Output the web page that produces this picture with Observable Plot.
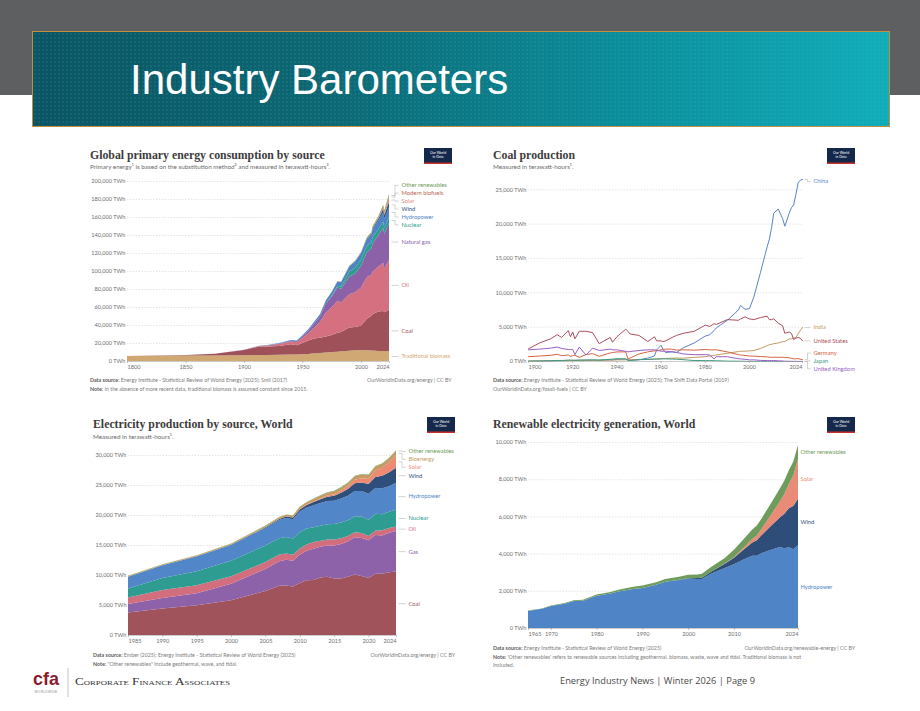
<!DOCTYPE html>
<html>
<head>
<meta charset="utf-8">
<script src="https://cdn.jsdelivr.net/npm/d3@7"></script>
<script src="https://cdn.jsdelivr.net/npm/@observablehq/plot@0.6"></script>
<style>
  html, body { margin: 0; padding: 0; background: #fff; }
  #page { position: relative; width: 920px; height: 711px; overflow: hidden; background: #fff; font-family: Lato, "Noto Sans", sans-serif; }
  #topband { position: absolute; left: 0; top: 0; width: 920px; height: 95px; background: #5e5f61; }
  #banner {
    position: absolute; left: 32px; top: 31px; width: 856px; height: 94px;
    border: 1px solid #c4903f;
    background:
      radial-gradient(circle, rgba(120,200,220,0.10) 0.7px, transparent 1.1px) 0 0 / 4px 4px,
      linear-gradient(90deg, #0a5563 0%, #0c6874 35%, #0b8f9c 70%, #10adb9 100%);
  }
  .chart { position: absolute; }
  .chart svg { background: transparent; }
</style>
</head>
<body>
<div id="page">
  <div id="topband"></div>
  <div id="banner"></div>

  <svg width="920" height="711" style="position:absolute;left:0;top:0">
    <text x="130" y="94" font-family="'Liberation Sans', Arial, sans-serif" font-size="42" fill="#ffffff">Industry Barometers</text>

    <g font-family="'Liberation Serif', 'DejaVu Serif', serif" font-weight="700" font-size="11.8" fill="#3c3c3c">
      <text x="90" y="158.5">Global primary energy consumption by source</text>
      <text x="493" y="158.5">Coal production</text>
      <text x="93" y="428.3">Electricity production by source, World</text>
      <text x="493" y="428.3">Renewable electricity generation, World</text>
    </g>

    <g font-family="Lato, sans-serif" font-size="6.3" fill="#6a6a6a">
      <text x="90" y="169.3">Primary energy¹ is based on the substitution method² and measured in terawatt-hours³.</text>
      <text x="493" y="169.3">Measured in terawatt-hours¹.</text>
      <text x="93" y="439.3">Measured in terawatt-hours¹.</text>
    </g>

    <!-- Our World in Data badges -->
    <g font-family="Lato, sans-serif" font-size="3.5" fill="#ffffff" text-anchor="middle">
      <g transform="translate(424,148)">
        <rect width="28" height="16" fill="#14284b"/><rect y="14.5" width="28" height="1.5" fill="#c8302c"/>
        <text x="14" y="6.3">Our World</text><text x="14" y="10.3">in Data</text>
      </g>
      <g transform="translate(827,148)">
        <rect width="28" height="16" fill="#14284b"/><rect y="14.5" width="28" height="1.5" fill="#c8302c"/>
        <text x="14" y="6.3">Our World</text><text x="14" y="10.3">in Data</text>
      </g>
      <g transform="translate(427,417)">
        <rect width="28" height="16" fill="#14284b"/><rect y="14.5" width="28" height="1.5" fill="#c8302c"/>
        <text x="14" y="6.3">Our World</text><text x="14" y="10.3">in Data</text>
      </g>
      <g transform="translate(827,417)">
        <rect width="28" height="16" fill="#14284b"/><rect y="14.5" width="28" height="1.5" fill="#c8302c"/>
        <text x="14" y="6.3">Our World</text><text x="14" y="10.3">in Data</text>
      </g>
    </g>

    <!-- sources and notes -->
    <g font-family="Lato, sans-serif" font-size="5.3" fill="#7c7c7c">
      <text x="90" y="382"><tspan font-weight="700" fill="#5c5c5c">Data source:</tspan> Energy Institute - Statistical Review of World Energy (2025); Smil (2017)</text>
      <text x="451.5" y="382" text-anchor="end">OurWorldinData.org/energy | CC BY</text>
      <text x="90" y="390.5"><tspan font-weight="700" fill="#5c5c5c">Note:</tspan> In the absence of more recent data, traditional biomass is assumed constant since 2015.</text>

      <text x="493" y="382"><tspan font-weight="700" fill="#5c5c5c">Data source:</tspan> Energy Institute - Statistical Review of World Energy (2025); The Shift Data Portal (2019)</text>
      <text x="493" y="390.5">OurWorldinData.org/fossil-fuels | CC BY</text>

      <text x="93" y="657.3"><tspan font-weight="700" fill="#5c5c5c">Data source:</tspan> Ember (2025); Energy Institute - Statistical Review of World Energy (2025)</text>
      <text x="455" y="657.3" text-anchor="end">OurWorldinData.org/energy | CC BY</text>
      <text x="93" y="666"><tspan font-weight="700" fill="#5c5c5c">Note:</tspan> "Other renewables" include geothermal, wave, and tidal.</text>

      <text x="493" y="650"><tspan font-weight="700" fill="#5c5c5c">Data source:</tspan> Energy Institute - Statistical Review of World Energy (2025)</text>
      <text x="855" y="650" text-anchor="end">OurWorldinData.org/renewable-energy | CC BY</text>
      <text x="493" y="658.7"><tspan font-weight="700" fill="#5c5c5c">Note:</tspan> 'Other renewables' refers to renewable sources including geothermal, biomass, waste, wave and tidal. Traditional biomass is not</text>
      <text x="493" y="666.5">included.</text>
    </g>

    <!-- footer -->
    <text x="33" y="685" font-family="'Liberation Sans', Arial, sans-serif" font-weight="700" font-size="19" fill="#8b1c2f" textLength="26" lengthAdjust="spacingAndGlyphs">cfa</text>
    <text x="46" y="692.5" text-anchor="middle" font-family="'Liberation Sans', Arial, sans-serif" font-size="3.2" fill="#8a8a8a" letter-spacing="0.3">WORLDWIDE</text>
    <line x1="68" x2="68" y1="668" y2="697" stroke="#b5b5b5" stroke-width="0.8"/>
    <text x="75" y="684.5" font-family="'Liberation Serif', serif" font-size="10.5" style="font-variant: small-caps" fill="#333333" textLength="155" lengthAdjust="spacingAndGlyphs">Corporate Finance Associates</text>
    <text x="560" y="683.5" font-family="'Open Sans', sans-serif" font-size="9.2" fill="#4a4a4a" textLength="195" lengthAdjust="spacingAndGlyphs">Energy Industry News | Winter 2026 | Page 9</text>
  </svg>

  <div id="c1" class="chart" style="left:80px;top:170px;width:380px;height:210px"></div>
  <div id="c2" class="chart" style="left:480px;top:170px;width:380px;height:210px"></div>
  <div id="c3" class="chart" style="left:80px;top:440px;width:380px;height:215px"></div>
  <div id="c4" class="chart" style="left:480px;top:432px;width:380px;height:216px"></div>
</div>

<script>
// ---------- Global primary energy consumption by source (TWh, substitution method) ----------
const primaryYears = [1800,1825,1850,1875,1900,1913,1920,1930,1940,1945,1950,1955,1960,1965,1970,1975,1980,1983,1990,1995,2000,2005,2009,2010,2015,2019,2020,2024];
const primaryTraditionalBiomass = [5556,5800,6000,6200,6400,6600,6700,6900,7100,7200,7400,7900,8600,9000,9500,9900,10400,10700,11400,11900,12200,12000,11700,11600,11100,11100,11100,11100];
const primaryCoal = [97,230,570,1900,5730,9400,9300,9800,11600,10400,12600,14800,16400,16700,17600,19000,20900,21500,25900,26000,27000,35000,38500,40500,44000,44500,43000,45800];
const primaryOil = [0,0,0,50,180,600,1100,2200,3100,3300,5440,8000,12000,17500,26700,30900,35600,32700,36900,38400,42300,46000,45600,47000,50000,53500,48600,55300];
const primaryGas = [0,0,0,10,64,200,250,550,800,1000,2100,3000,4600,6300,10000,12000,14800,15000,19500,21000,24000,27500,29500,31500,35000,38900,38400,41000];
const primaryNuclear = [0,0,0,0,0,0,0,0,0,0,0,0,2,70,220,1050,2000,2700,5500,6300,6950,7300,6930,7100,6300,6900,6600,6900];
const primaryHydro = [0,0,0,0,50,200,300,500,800,900,1100,1500,2000,2500,3200,3900,4700,5000,5900,6800,7200,7800,8400,8900,9700,10500,10700,10900];
const primaryWind = [0,0,0,0,0,0,0,0,0,0,0,0,0,0,0,0,0,0,10,20,100,270,640,850,2000,3400,3800,6000];
const primarySolar = [0,0,0,0,0,0,0,0,0,0,0,0,0,0,0,0,0,0,0,0,3,10,50,80,620,1750,2100,5000];
const primaryBiofuels = [0,0,0,0,0,0,0,0,0,0,0,0,0,0,0,0,100,150,200,200,250,400,800,900,1000,1200,1100,1350];
const primaryOtherRenewables = [0,0,0,0,0,0,0,0,0,0,0,0,0,100,150,200,300,350,600,700,800,1000,1150,1200,1500,1800,1900,2200];
const primarySources = ["Traditional biomass","Coal","Oil","Natural gas","Nuclear","Hydropower","Wind","Solar","Modern biofuels","Other renewables"];
const primaryColors = ["#cfa874","#9f5159","#d4707f","#8c61a8","#2e9d90","#4e83c6","#2c4d78","#ea8a76","#b8654e","#6e9b59"];
const primaryXTicks = [1800,1850,1900,1950,2000,2024];
const primaryYTicks = [0,20000,40000,60000,80000,100000,120000,140000,160000,180000,200000];

// ---------- Coal production by country (TWh) ----------
const coalYears = [1900,1905,1910,1913,1915,1918,1919,1920,1921,1923,1926,1929,1932,1937,1938,1940,1944,1945,1946,1950,1954,1957,1958,1960,1961,1962,1965,1967,1970,1975,1980,1982,1984,1985,1990,1995,1996,1998,2000,2002,2005,2008,2009,2010,2011,2013,2015,2016,2018,2019,2020,2021,2022,2023,2024];
const coalChina = [20,40,80,100,110,130,140,150,150,180,170,180,200,250,230,300,380,250,180,250,500,800,1700,2350,1700,1300,1400,1300,2000,2700,3700,3900,4500,4900,6000,7500,8150,7600,7700,9400,13000,16700,17800,19500,21600,22200,20800,19700,21600,22400,22800,24300,26000,26400,26500];
const coalIndia = [70,90,110,130,140,150,160,150,160,160,170,180,160,200,220,230,240,250,250,280,320,350,380,400,420,440,480,500,490,600,700,800,900,950,1200,1450,1500,1500,1550,1600,1900,2300,2450,2500,2600,2700,2900,2900,3300,3300,3400,3500,4000,4500,4950];
const coalUnitedStates = [1850,2700,3300,3900,3500,4500,3600,4300,3300,4400,4400,4200,2600,3500,2800,3600,4700,4400,4000,3800,2900,3600,3000,3000,2900,3000,3500,3800,4100,4400,5300,5100,5500,5400,6100,6000,6200,6500,6200,6100,6400,6600,6100,6100,6200,5600,5200,4100,4300,4100,3200,3400,3500,3400,3000];
const coalGermany = [700,800,900,1050,850,950,750,850,900,600,1000,1150,750,1250,1300,1400,1400,400,500,1100,1400,1550,1550,1700,1750,1800,1800,1650,1700,1650,1750,1700,1700,1700,1400,1000,950,880,800,780,720,680,620,600,620,620,600,580,540,450,380,400,420,330,270];
const coalJapan = [50,80,110,150,150,200,210,200,180,200,220,240,200,320,350,420,360,160,160,270,290,360,340,380,390,380,360,330,270,140,130,130,120,110,55,43,43,25,20,10,8,8,8,7,7,7,7,7,7,7,7,7,7,7,7];
const coalUnitedKingdom = [1700,1800,1950,2100,1900,1750,1750,1750,1000,2100,950,1950,1600,1800,1700,1700,1480,1400,1450,1600,1700,1700,1650,1500,1480,1500,1420,1330,1100,990,1000,950,380,700,700,400,380,320,240,240,160,140,140,140,140,100,70,35,25,20,15,10,8,6,4];
const coalCountries = ["China","India","United States","Germany","Japan","United Kingdom"];
const coalColors = ["#5b82c8","#c09a63","#ad4f5e","#d8623f","#3d9a80","#9a5fc4"];
const coalXTicks = [1900,1920,1940,1960,1980,2000,2024];
const coalYTicks = [0,5000,10000,15000,20000,25000];

// ---------- Electricity production by source, World (TWh) ----------
const elecYears = [1985,1990,1995,2000,2005,2007,2008,2009,2010,2011,2012,2013,2014,2015,2016,2017,2018,2019,2020,2021,2022,2023,2024];
const elecCoal = [3750,4430,4950,5800,7330,8200,8270,8100,8650,9130,9170,9600,9700,9400,9430,9700,10100,9850,9500,10200,10200,10450,10600];
const elecGas = [1430,1730,2020,2760,3670,4100,4270,4280,4770,4900,5200,5100,5200,5500,5750,5900,6200,6300,6280,6450,6400,6600,6750];
const elecOil = [1050,1320,1320,1220,1150,1100,1050,1000,980,1050,1120,1000,1000,1020,950,880,810,830,740,760,840,770,750];
const elecNuclear = [1500,2000,2330,2580,2770,2720,2730,2700,2760,2650,2470,2490,2540,2570,2610,2640,2700,2790,2690,2800,2680,2740,2820];
const elecHydro = [1980,2150,2480,2650,2920,3060,3200,3230,3430,3500,3670,3800,3890,3890,4020,4070,4200,4230,4350,4290,4340,4240,4450];
const elecWind = [0,4,8,31,104,170,220,276,342,437,524,640,710,830,960,1140,1270,1420,1590,1850,2100,2330,2500];
const elecSolar = [0,0,0,1,4,8,12,20,32,63,98,134,190,256,330,450,580,700,850,1050,1300,1640,2130];
const elecBioenergy = [110,130,150,160,230,260,280,300,360,380,410,440,470,500,520,550,590,620,660,680,680,690,700];
const elecOtherRenewables = [40,45,50,55,60,65,68,70,72,75,78,80,82,85,88,90,92,95,98,100,100,102,105];
const elecSources = ["Coal","Gas","Oil","Nuclear","Hydropower","Wind","Solar","Bioenergy","Other renewables"];
const elecColors = ["#a0535b","#8d62a8","#d26e7e","#2e9c90","#5186c8","#2e4f7b","#ee8a74","#c49b63","#6e9b59"];
const elecXTicks = [1985,1990,1995,2000,2005,2010,2015,2020,2024];
const elecYTicks = [0,5000,10000,15000,20000,25000,30000];

// ---------- Renewable electricity generation, World (TWh) ----------
const renewYears = [1965,1968,1970,1973,1975,1977,1980,1983,1985,1988,1990,1993,1995,1998,2000,2002,2003,2005,2008,2010,2012,2014,2015,2016,2018,2020,2021,2022,2023,2024];
const renewHydro = [920,1030,1180,1300,1450,1470,1740,1860,1980,2100,2150,2320,2480,2580,2650,2630,2640,2920,3230,3430,3670,3890,3890,4020,4200,4350,4290,4340,4240,4450];
const renewWind = [0,0,0,0,0,0,0,0,0,0,4,6,8,16,31,52,63,104,220,342,524,710,830,960,1270,1590,1850,2100,2330,2500];
const renewSolar = [0,0,0,0,0,0,0,0,0,0,0,0,0,0,0,0,0,4,12,32,98,190,256,330,580,850,1050,1300,1640,2130];
const renewOther = [20,25,30,40,45,50,60,75,90,120,130,140,150,160,180,200,210,250,300,400,450,510,540,560,620,700,720,740,750,760];
const renewSources = ["Hydropower","Wind","Solar","Other renewables"];
const renewColors = ["#4f84c6","#2e4e79","#e98b77","#6f9c5c"];
const renewXTicks = [1965,1970,1980,1990,2000,2010,2024];
const renewYTicks = [0,2000,4000,6000,8000,10000];

// ---------- helpers ----------
const fmtTWh = d => d3.format(",")(d) + " TWh";
const baseStyle = {fontFamily: "Lato, 'Noto Sans', sans-serif", fontSize: "5.6px", color: "#6e6e6e", background: "transparent", overflow: "visible"};

function longForm(years, names, series, key) {
  const rows = [];
  names.forEach((name, i) => years.forEach((year, j) => rows.push({year, [key]: name, value: series[i][j]})));
  return rows;
}

// Push overlapping end labels apart, keeping each group centred on its targets.
function spreadLabels(items, gap, lo, hi) {
  const sorted = items.slice().sort((a, b) => a.py - b.py);
  const top = c => c.center - (c.members.length - 1) * gap / 2;
  const bottom = c => c.center + (c.members.length - 1) * gap / 2;
  const clamp = c => { const t = top(c), b = bottom(c); if (t < lo) c.center += lo - t; else if (b > hi) c.center -= b - hi; };
  const clusters = sorted.map(d => ({members: [d], center: d.py}));
  clusters.forEach(clamp);
  let merged = true;
  while (merged) {
    merged = false;
    for (let i = 0; i < clusters.length - 1; i++) {
      const a = clusters[i], b = clusters[i + 1];
      if (top(b) - bottom(a) < gap) {
        const members = a.members.concat(b.members);
        const c = {members, center: d3.mean(members, m => m.py)};
        clamp(c);
        clusters.splice(i, 2, c);
        merged = true;
        break;
      }
    }
  }
  clusters.forEach(c => c.members.forEach((m, k) => { m.ly = top(c) + k * gap; }));
}

function endLabels({names, series, stacked, yScale, gap, lo, hi}) {
  let base = 0;
  const items = names.map((name, i) => {
    const v = series[i][series[i].length - 1];
    const target = stacked ? base + v / 2 : v;
    base += v;
    return {name, target, py: yScale(target)};
  });
  spreadLabels(items, gap, lo, hi);
  items.forEach(d => { d.labelValue = yScale.invert(d.ly); });
  return items;
}

function xAxes(ticks) {
  const common = {tickSize: 2, tickPadding: 1.5, tickFormat: d => String(d), label: null, stroke: "#9a9a9a", strokeWidth: 0.6};
  return [
    Plot.axisX(ticks.slice(1, -1), common),
    Plot.axisX([ticks[0]], {...common, textAnchor: "start"}),
    Plot.axisX([ticks[ticks.length - 1]], {...common, textAnchor: "end"})
  ];
}

function buildChart({el, width, height, margin, xDomain, yDomain, xTicks, yTicks, years, names, series, colors,
                     kind, key, labelDx, connectors, gap}) {
  const yScale = d3.scaleLinear(yDomain, [height - margin.bottom, margin.top]);
  const plotWidth = width - margin.left - margin.right;
  const yearsPerPx = (xDomain[1] - xDomain[0]) / plotWidth;
  const xEnd = xDomain[1];
  const labels = endLabels({
    names, series, stacked: kind === "area", yScale, gap,
    lo: margin.top + 2, hi: height - margin.bottom + 8
  });
  const data = longForm(years, names, series, key);
  const marks = [
    Plot.gridY(yTicks.filter(t => t > 0), {stroke: "#cfcfcf", strokeOpacity: 1, strokeWidth: 0.6, strokeDasharray: "1.3,1.6"}),
    kind === "area"
      ? Plot.areaY(data, {x: "year", y: "value", fill: key, order: names})
      : Plot.lineY(data, {x: "year", y: "value", stroke: key, z: key, strokeWidth: 1}),
    Plot.ruleY([0], {stroke: "#a8a8a8", strokeWidth: 0.6}),
    Plot.axisY(yTicks, {tickSize: 0, tickPadding: 2, tickFormat: fmtTWh, label: null}),
    ...xAxes(xTicks)
  ];
  if (connectors) {
    marks.push(Plot.link(labels, {
      x1: () => xEnd + 2 * yearsPerPx,
      x2: () => xEnd + (labelDx - 3) * yearsPerPx,
      y1: "target", y2: "labelValue",
      curve: "step", stroke: "#b5b5b5", strokeWidth: 0.6
    }));
  }
  marks.push(Plot.text(labels, {
    x: () => xEnd, y: "labelValue", text: "name", fill: "name",
    textAnchor: "start", dx: labelDx, fontSize: 5.8
  }));
  const chart = Plot.plot({
    width, height,
    marginTop: margin.top, marginRight: margin.right, marginBottom: margin.bottom, marginLeft: margin.left,
    style: baseStyle,
    x: {domain: xDomain, axis: null, label: null},
    y: {domain: yDomain, axis: null, label: null},
    color: {domain: names, range: colors},
    marks
  });
  document.getElementById(el).appendChild(chart);
}

buildChart({
  el: "c1", width: 380, height: 210, margin: {top: 11, right: 71, bottom: 19, left: 47},
  xDomain: [1800, 2024], yDomain: [0, 200000], xTicks: primaryXTicks, yTicks: primaryYTicks,
  years: primaryYears, key: "source", kind: "area", labelDx: 12, connectors: true, gap: 7.9,
  names: primarySources, colors: primaryColors,
  series: [primaryTraditionalBiomass, primaryCoal, primaryOil, primaryGas, primaryNuclear, primaryHydro,
           primaryWind, primarySolar, primaryBiofuels, primaryOtherRenewables]
});

buildChart({
  el: "c2", width: 380, height: 210, margin: {top: 9, right: 58, bottom: 19, left: 48},
  xDomain: [1900, 2024], yDomain: [0, 26500], xTicks: coalXTicks, yTicks: coalYTicks,
  years: coalYears, key: "country", kind: "line", labelDx: 11, connectors: true, gap: 7.8,
  names: coalCountries, colors: coalColors,
  series: [coalChina, coalIndia, coalUnitedStates, coalGermany, coalJapan, coalUnitedKingdom]
});

buildChart({
  el: "c3", width: 380, height: 215, margin: {top: 9, right: 64, bottom: 20, left: 48},
  xDomain: [1985, 2024], yDomain: [0, 31000], xTicks: elecXTicks, yTicks: elecYTicks,
  years: elecYears, key: "source", kind: "area", labelDx: 12, connectors: true, gap: 7.9,
  names: elecSources, colors: elecColors,
  series: [elecCoal, elecGas, elecOil, elecNuclear, elecHydro, elecWind, elecSolar, elecBioenergy, elecOtherRenewables]
});

buildChart({
  el: "c4", width: 380, height: 216, margin: {top: 10, right: 62, bottom: 20, left: 48},
  xDomain: [1965, 2024], yDomain: [0, 10000], xTicks: renewXTicks, yTicks: renewYTicks,
  years: renewYears, key: "source", kind: "area", labelDx: 2, connectors: false, gap: 7.9,
  names: renewSources, colors: renewColors,
  series: [renewHydro, renewWind, renewSolar, renewOther]
});
</script>
</body>
</html>
